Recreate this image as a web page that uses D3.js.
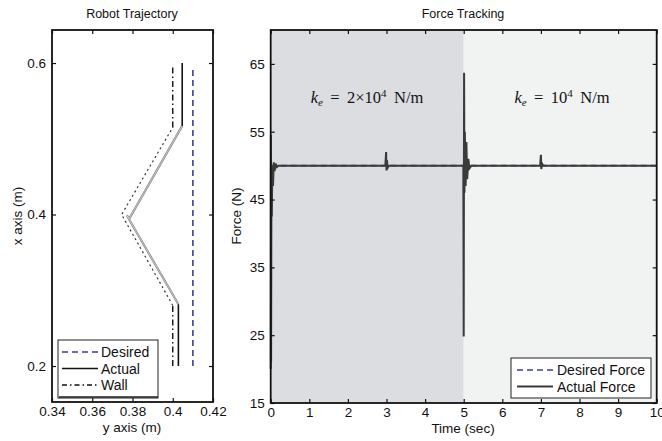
<!DOCTYPE html>
<html>
<head>
<meta charset="utf-8">
<script src="https://cdn.jsdelivr.net/npm/d3@7"></script>
<style>
  body { margin: 0; background: #fff; }
  text { font-family: "Liberation Sans", Arial, sans-serif; fill: #111; }
</style>
</head>
<body>
<svg id="chart" width="662" height="441"></svg>
<script>
// --- trajectory data (left panel), y axis (m) vs x axis (m)
var trajXTicks = [0.34, 0.36, 0.38, 0.4, 0.42];
var trajYTicks = [0.2, 0.4, 0.6];
var desiredY = [0.41, 0.41];
var desiredX = [0.2, 0.595];
var actualY = [0.4028, 0.4028, 0.3771, 0.3785, 0.4047, 0.4047];
var actualX = [0.2, 0.2815, 0.399, 0.395, 0.517, 0.6];
var wallY = [0.400, 0.400, 0.3746, 0.400, 0.400];
var wallX = [0.2, 0.28, 0.40, 0.515, 0.597];

// --- force data (right panel)
var timeTicks = [0, 1, 2, 3, 4, 5, 6, 7, 8, 9, 10];
var forceTicks = [15, 25, 35, 45, 55, 65];
var desiredTime = [0, 10];
var desiredForce = [50, 50];
var forceTime = [0, 0.005, 0.01, 0.02, 0.03, 0.04, 0.06, 0.08, 0.1, 0.13, 0.16, 0.2,
  2.97, 2.99, 3.0, 3.01, 3.03, 3.06,
  4.99, 5.0, 5.01, 5.02, 5.03, 5.05, 5.07, 5.09, 5.12, 5.15, 5.2,
  6.98, 7.0, 7.01, 7.03, 7.06, 10];
var forceVal = [20, 54.5, 21, 50, 42.5, 50, 47, 50.5, 49.2, 50.3, 49.8, 50,
  50, 52, 49.3, 50.8, 49.7, 50,
  50, 24.8, 63.7, 46, 55, 47, 53.5, 48, 51, 49.6, 50,
  50, 51.6, 49.5, 50.3, 50, 50];
var regionStart = [0, 5];
var regionEnd = [5, 10];
var regionFill = ['#dcdde0', '#f1f2f2'];

var svg = d3.select('#chart');

function zip(xs, ys) { return xs.map(function (v, i) { return [v, ys[i]]; }); }

// inward ticks on all four sides, MATLAB style
function frame(g, x, y, xt, yt, fmtX, fmtY) {
  var x0 = x.range()[0], x1 = x.range()[1], y0 = y.range()[0], y1 = y.range()[1];
  g.append('g').attr('transform', 'translate(0,' + y0 + ')')
    .call(d3.axisBottom(x).tickValues(xt).tickSizeInner(-4).tickSizeOuter(0).tickPadding(4).tickFormat(fmtX))
    .call(function (a) { a.select('.domain').remove(); a.selectAll('text').style('font-size', '13.5px'); });
  g.append('g').attr('transform', 'translate(0,' + y1 + ')')
    .call(d3.axisTop(x).tickValues(xt).tickSizeInner(-4).tickSizeOuter(0).tickFormat(''))
    .call(function (a) { a.select('.domain').remove(); });
  g.append('g').attr('transform', 'translate(' + x0 + ',0)')
    .call(d3.axisLeft(y).tickValues(yt).tickSizeInner(-4).tickSizeOuter(0).tickPadding(6).tickFormat(fmtY))
    .call(function (a) { a.select('.domain').remove(); a.selectAll('text').style('font-size', '13.5px'); });
  g.append('g').attr('transform', 'translate(' + x1 + ',0)')
    .call(d3.axisRight(y).tickValues(yt).tickSizeInner(-4).tickSizeOuter(0).tickFormat(''))
    .call(function (a) { a.select('.domain').remove(); });
  g.selectAll('.tick line').attr('stroke', '#111').attr('stroke-width', 1.2);
  g.append('rect').attr('x', x0).attr('y', y1).attr('width', x1 - x0).attr('height', y0 - y1)
    .attr('fill', 'none').attr('stroke', '#111').attr('stroke-width', 1.8);
}

// ================= left panel =================
var lx = d3.scaleLinear().domain([0.34, 0.42]).range([52, 213]);
var ly = d3.scaleLinear().domain([0.1525, 0.6436]).range([402, 30]);
var left = svg.append('g');
var line = d3.line().x(function (d) { return lx(d[0]); }).y(function (d) { return ly(d[1]); });

left.append('path').datum(zip(desiredY, desiredX)).attr('d', line)
  .attr('fill', 'none').attr('stroke', '#3b3f9e').attr('stroke-width', 1.6).attr('stroke-dasharray', '6,4');

var act = zip(actualY, actualX);
left.append('path').datum(act.slice(1, 5)).attr('d', line)
  .attr('fill', 'none').attr('stroke', '#8a8a8a').attr('stroke-width', 2.2);
left.append('path').datum(act.slice(1, 5)).attr('d', line)
  .attr('fill', 'none').attr('stroke', '#eee').attr('stroke-width', 0.6);
left.append('path').datum(act.slice(0, 2)).attr('d', line)
  .attr('fill', 'none').attr('stroke', '#111').attr('stroke-width', 1.6);
left.append('path').datum(act.slice(4)).attr('d', line)
  .attr('fill', 'none').attr('stroke', '#111').attr('stroke-width', 1.6);

var wall = zip(wallY, wallX);
left.append('path').datum(wall.slice(0, 2)).attr('d', line)
  .attr('fill', 'none').attr('stroke', '#111').attr('stroke-width', 1.4).attr('stroke-dasharray', '6,3,1.5,3');
left.append('path').datum(wall.slice(1, 4)).attr('d', line)
  .attr('fill', 'none').attr('stroke', '#333').attr('stroke-width', 1.2).attr('stroke-dasharray', '2,3');
left.append('path').datum(wall.slice(3)).attr('d', line)
  .attr('fill', 'none').attr('stroke', '#111').attr('stroke-width', 1.4).attr('stroke-dasharray', '6,3,1.5,3');

frame(left, lx, ly, trajXTicks, trajYTicks, d3.format(''), d3.format(''));

// legend
var lg = left.append('g').attr('transform', 'translate(58,340)');
lg.append('rect').attr('width', 100).attr('height', 58).attr('fill', '#fff').attr('stroke', '#222').attr('stroke-width', 1);
lg.append('line').attr('x1', 1).attr('x2', 100).attr('y1', 57).attr('y2', 57).attr('stroke', '#222').attr('stroke-width', 1.5);
var leg1 = [
  { name: 'Desired', stroke: '#3b3f9e', dash: '6,4', w: 1.6 },
  { name: 'Actual', stroke: '#111', dash: null, w: 1.6 },
  { name: 'Wall', stroke: '#111', dash: '5,3,1.5,3', w: 1.4 }
];
leg1.forEach(function (d, i) {
  var yy = 12 + i * 16.5;
  lg.append('line').attr('x1', 4).attr('x2', 40).attr('y1', yy).attr('y2', yy)
    .attr('stroke', d.stroke).attr('stroke-width', d.w).attr('stroke-dasharray', d.dash);
  lg.append('text').attr('x', 43).attr('y', yy + 5).style('font-size', '14px').text(d.name);
});

svg.append('text').attr('x', 132).attr('y', 18).attr('text-anchor', 'middle').style('font-size', '12.5px').text('Robot Trajectory');
svg.append('text').attr('x', 132).attr('y', 432).attr('text-anchor', 'middle').style('font-size', '13.5px').text('y axis (m)');
svg.append('text').attr('transform', 'translate(22,216) rotate(-90)').attr('text-anchor', 'middle').style('font-size', '13.5px').text('x axis (m)');

// ================= right panel =================
var rx = d3.scaleLinear().domain([0, 10]).range([270.7, 656.7]);
var ry = d3.scaleLinear().domain([15, 70]).range([403, 30]);
var right = svg.append('g');

right.selectAll('rect.region').data(regionStart).enter().append('rect')
  .attr('class', 'region')
  .attr('x', function (d) { return rx(d); })
  .attr('y', ry(70))
  .attr('width', function (d, i) { return rx(regionEnd[i]) - rx(d); })
  .attr('height', ry(15) - ry(70))
  .attr('fill', function (d, i) { return regionFill[i]; });

var fline = d3.line().x(function (d) { return rx(d[0]); }).y(function (d) { return ry(d[1]); });
right.append('path').datum(zip(desiredTime, desiredForce)).attr('d', fline)
  .attr('fill', 'none').attr('stroke', '#3b3f9e').attr('stroke-width', 1.6).attr('stroke-dasharray', '6,4');
right.append('path').datum(zip(forceTime, forceVal)).attr('d', fline)
  .attr('fill', 'none').attr('stroke', '#3a3a3a').attr('stroke-width', 2);

frame(right, rx, ry, timeTicks, forceTicks, d3.format(''), d3.format(''));

// stiffness annotations
function kLabel(cx, base, exp) {
  var t = right.append('text').attr('x', cx).attr('y', 103).attr('text-anchor', 'middle')
    .style('font-family', '"Liberation Serif", "DejaVu Serif", serif').style('font-size', '16.5px');
  t.append('tspan').style('font-style', 'italic').text('k');
  t.append('tspan').style('font-style', 'italic').style('font-size', '11px').attr('dy', 3).text('e');
  t.append('tspan').attr('dy', -3).text(' \u2009=\u2009 ' + base + '10');
  t.append('tspan').style('font-size', '11px').attr('dy', -6).text(exp);
  t.append('tspan').attr('dy', 6).text('\u2009 N/m');
}
kLabel(367, '2\u00d7', '4');
kLabel(562, '', '4');

// legend
var rg = right.append('g').attr('transform', 'translate(511,358)');
rg.append('rect').attr('width', 140).attr('height', 40).attr('fill', '#fff').attr('stroke', '#222').attr('stroke-width', 1);
var leg2 = [
  { name: 'Desired Force', stroke: '#3b3f9e', dash: '6,4', w: 1.6 },
  { name: 'Actual Force', stroke: '#3a3a3a', dash: null, w: 1.8 }
];
leg2.forEach(function (d, i) {
  var yy = 12 + i * 16.5;
  rg.append('line').attr('x1', 6).attr('x2', 42).attr('y1', yy).attr('y2', yy)
    .attr('stroke', d.stroke).attr('stroke-width', d.w).attr('stroke-dasharray', d.dash);
  rg.append('text').attr('x', 46).attr('y', yy + 5).style('font-size', '14px').text(d.name);
});

svg.append('text').attr('x', 463).attr('y', 18).attr('text-anchor', 'middle').style('font-size', '12.5px').text('Force Tracking');
svg.append('text').attr('x', 463).attr('y', 433).attr('text-anchor', 'middle').style('font-size', '13.5px').text('Time (sec)');
svg.append('text').attr('transform', 'translate(241,216) rotate(-90)').attr('text-anchor', 'middle').style('font-size', '13.5px').text('Force (N)');
</script>
</body>
</html>
